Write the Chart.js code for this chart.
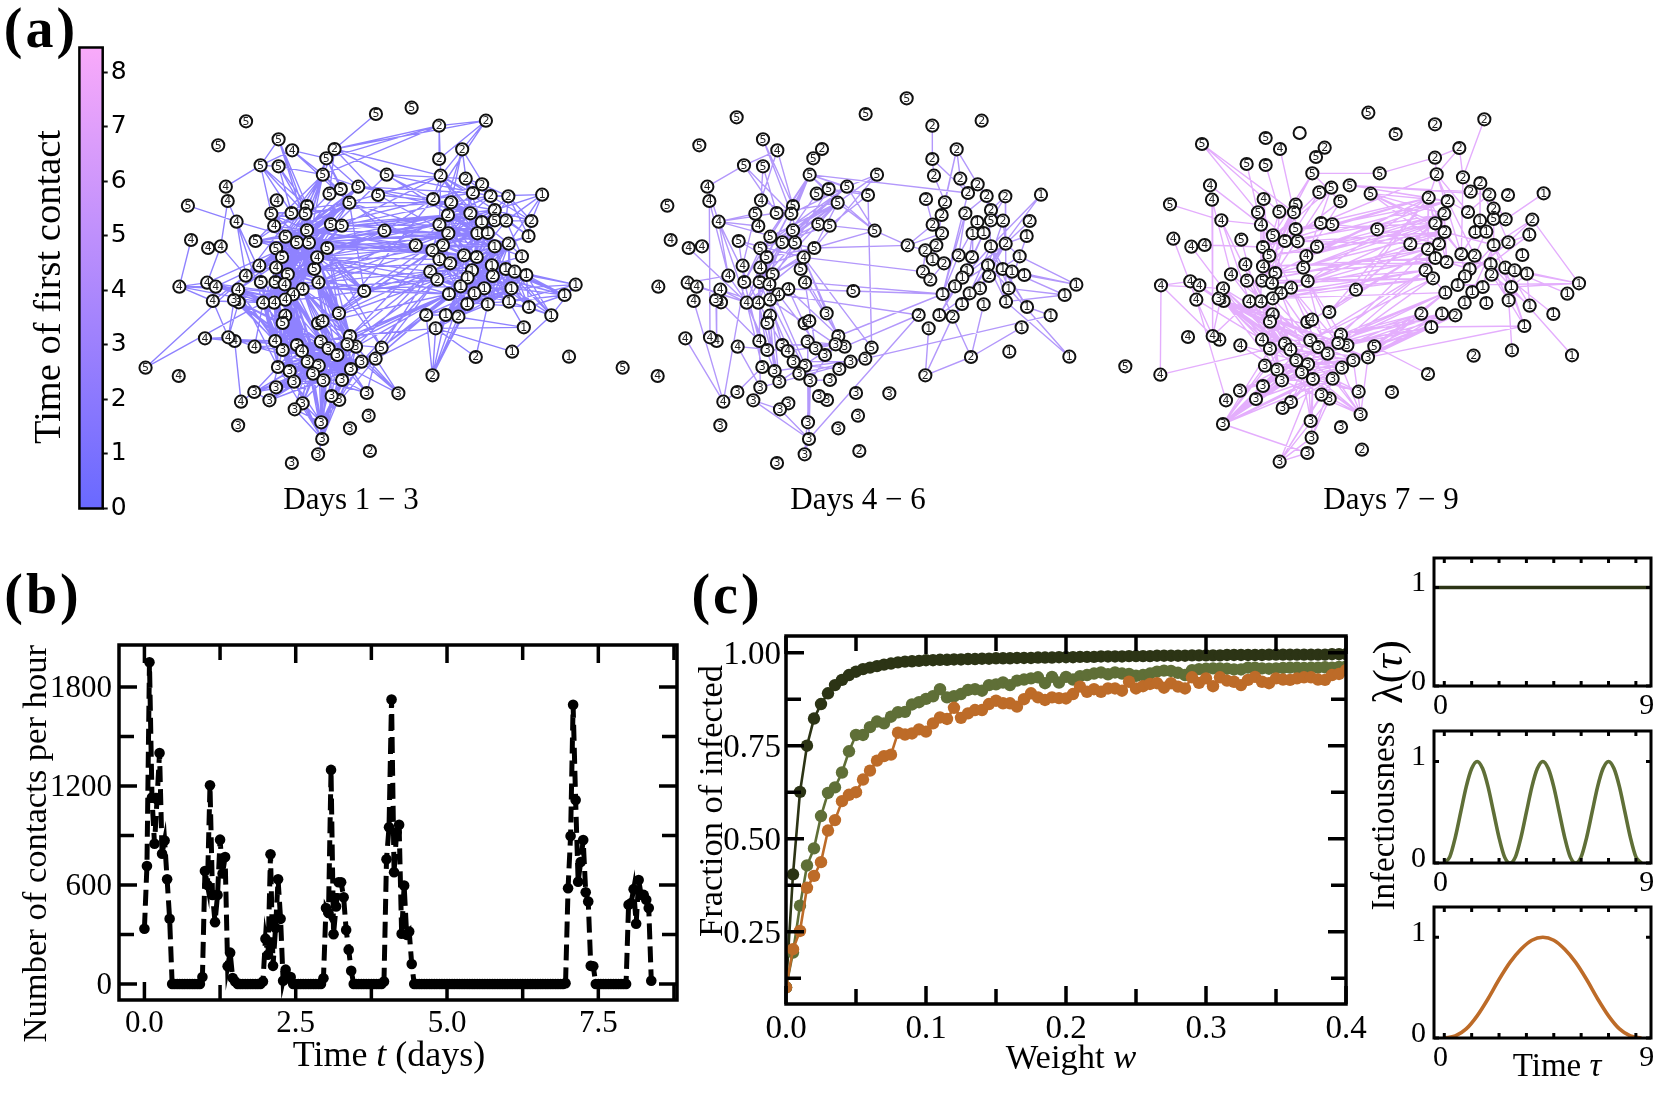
<!DOCTYPE html>
<html>
<head>
<meta charset="utf-8">
<title>Contacts and infection spread</title>
<style>
  html, body { margin: 0; background: #fff; }
  #page { position: relative; width: 1661px; height: 1098px; overflow: hidden; }
  canvas { position: absolute; }
</style>
<script src="https://cdn.jsdelivr.net/npm/chart.js@4/dist/chart.umd.min.js"></script>
</head>
<body>
<div id="page"></div>
<script>
// ---- panel (a): network layout
const nodeX = [800,677,290,178,369,412,312,369,546,520,509,711,202,208,82,363,459,346,410,454,236,355,459,535,569,704,593,621,566,530,684,92,146,186,296,391,427,465,523,361,380,491,308,361,482,265,398,55,143,170,241,313,359,388,495,445,415,390,355,320,161,243,228,640,560,390,382,494,508,595,136,230,210,293,358,382,427,443,503,527,614,587,555,695,676,632,598,461,496,367,404,478,511,418,570,361,292,340,250,53,-52,648,748,561,537,445,420,654,241,504,507,595,494,658,411,
  877,1025,950,877,882,961,1013,984,1040,1096,1203,858,915,1053,905,976,878,1012,1053,1089,1169,906,998,1031,1160,803,889,856,1053,1097,878,912,956,996,1139,1044,1088,1116,1153,849,871,981,967,1047,945,1020,1106,1309,1274,908,989,966,1031,1098,1161,836,898,938,1232,866,1145,993,1108,1288,856];
const nodeY = [40,87,97,181,163,196,241,244,192,220,269,269,305,348,362,346,363,386,384,386,410,423,436,418,422,437,353,305,312,326,330,465,489,484,468,455,472,473,489,490,516,517,542,548,552,572,568,605,593,605,614,591,591,598,592,612,628,644,653,653,648,652,645,618,685,692,714,715,708,753,760,768,757,785,768,795,780,798,770,790,785,778,810,788,821,830,852,830,842,846,858,866,886,890,885,907,921,946,950,873,848,924,925,945,933,955,973,992,1021,1012,1062,1030,1108,1098,1134,
  122,107,193,222,272,281,298,324,333,334,329,342,352,375,390,385,419,411,406,407,408,445,445,444,453,481,481,496,484,476,523,535,511,516,514,541,552,560,570,560,584,556,578,573,604,610,610,599,630,627,625,657,658,650,666,690,690,695,691,730,727,816,800,815,871];
const nodeDay = [5,5,5,5,5,4,5,5,2,5,5,5,4,4,5,4,5,5,5,5,4,4,5,5,5,5,5,5,5,5,5,4,4,4,5,5,5,5,5,5,5,4,4,4,5,4,5,4,4,4,4,5,5,4,4,4,4,4,4,4,4,3,3,5,3,4,5,5,4,3,4,4,4,4,4,3,3,4,3,3,3,3,3,5,3,3,3,3,3,3,3,3,3,3,3,3,3,3,4,4,5,3,3,3,3,3,3,3,3,3,3,3,3,2,3,
  2,2,2,2,2,2,2,2,2,2,1,2,2,2,2,2,2,1,5,2,2,2,1,1,1,2,2,2,1,2,1,2,2,2,1,1,1,1,1,2,2,1,1,2,1,1,1,1,1,1,1,1,1,1,1,2,1,2,1,1,1,2,1,1,2];
// nodes that sit elsewhere in a given panel: index -> [x, y]
const movedDays1 = { 0: [790, 68], 2: [266, 109] };
const movedDays4 = {};
const movedDays7 = { 0: [759, 151], 2: [471, 148] };
const blankDays7 = [2];

// contact lists, each row is one node followed by the nodes it touches
const edgesDays1 = [
  [8,1,115,116,119,126,11,30,9,10,29],[115,116,118,119,10,9],[116,119,126,118],[117,119,127,130,131,123],
  [6,5,7,17,18,19,16,12],[4,6,16,19,22],[7,18,10,16,19],[5,9,10,26],[9,26,27,19,22,28],[10,26,27,22,36,37,39,43],
  [39,22,36,37,38,23,24,26,27,29,16,19,43,46,52,53,54,55],[40,22,36,37,23,24,26,27,16,28,52,53,57,131],
  [43,22,36,37,38,44,46,54,55,56,57,58,59,129],[46,36,37,38,41,44,52,54,55,56,141],[52,22,35,36,37,41,44,54,55,57],
  [53,22,37,38,41,44,54,55,56],[58,36,37,38,41,44,22,16,19,23,24],[59,36,37,41,38,22,26,27,23,24],
  [57,37,38,41,23,24,26,129],[45,36,37,38,22,26,27,10],[34,37,22,16,38,41,10,130],[17,37,22,23,26,127],
  [35,22,37,38,44,26,147],[36,37,22,38,23,24,26,27,141],[21,37,38,22,26],[42,37,22,38,26],
  [36,16,19,22,23,35,40,43,44,46,52,53,54,55,56,57,58,59],[37,16,19,23,35,40,43,44,46,53,54,55,56,57,58],[22,19,35,40,43,44,46,52,53,54,55],
  [37,129,131,136,141,147,148,137],[38,131,141,147,143,138],[41,136,141,145,154,155,164],[22,130,136,140,147,129],
  [23,126,129,136],[24,119,127,131],[25,126,131,143,137,10,37,39,43,52],
  [26,119,127,136,142],[27,122,126,130],[30,119,127,136],[11,120,123,137,52],[44,136,146,155],[54,136,154,164],[55,141,155,159],
  [63,37,36,22,38,26,26,43,52,53,58,154,155,164],[64,126,154,142],[68,141,155],[67,136,164],
  [69,154,164,174,142],[84,164,170,174,155],[83,154,164,41],[85,155,170],[80,154,164],[81,155,164],[79,164],
  [59,75,76,77,87,89,90,74],[58,75,76,77,87,88,89,90,93],[57,75,76,77,78,87,88,90,93],[56,76,77,78,79,87,88,91,92],[55,78,79,81,82,64,69,86,80],
  [54,79,81,82,86,64,69,85],[53,76,77,78,87,88,93,91],[65,76,78,87,90,92,79],[66,76,78,87,90,93,88],[68,79,81,82,69,86],[67,79,82,86,94],
  [44,69,79,81,64],[41,64,69,81,80,83],[38,69,64,83],[46,76,78,87,88,91],[52,75,76,87,90,93],[43,74,76,87,89],[51,74,76,89,90],[50,74,75,89],
  [48,59,58,57,56,36],[49,58,59,37,57,56],[50,57,58,59,36,37],[60,58,59,45,72],[47,48,49,50,59,60,31],[100,59,45],[14,20],[13,33,20],[33,45,48],[20,59,45,58,37],
  [70,72,71,74,76],[73,76,59,75,87],[72,61,62,73],[71,98,74,76],[98,96],[61,75,76,78,79,87],[62,74,76,78,88],
  [89,75,76,77,78,79,81,82,87,88,91],[90,78,79,81,82,85,86,87,88],[93,77,78,79,81,82,85,86,87,88,94],[91,69,79,81,82,84,85,86],[92,69,79,81,82,84,85,86,80],
  [87,69,78,79,80,81,82,85,86],[88,69,78,79,80,81,82,84,85,86],[94,69,79,80,81,82,84,85],[86,69,78,79,80,81,82,84],[75,78,79,81,82,85,86,69],[77,78,79,81,82,86],[76,79,81,82,69,85],
  [110,87,88,90,91,92,93,89,78,79,69,81,86,94,112,109,93],[109,87,88,91,92,93,79,82,86,94,85,84],[96,89,87,88,91,92,79,90],[97,89,87,88,91,92,79,86,81,96],[95,87,88,91,92,79,82],[105,87,88,91,109,110],[106,87,91,92,109,110],
  [104,79,82,86,110],[103,82,86,85],[102,84,85,86,80,81],[101,86,94,92,79,84],[83,85,84,81],
  [131,130,147,148,136,137,138,141,146,143,132,144,134,128,145,142,129,119],[136,130,147,148,137,138,143,132,144,134,128,127,123,121],[141,130,147,148,137,138,143,132,144,134,145,146],
  [147,129,136,137,138,145,146,148,156,157,159,165,143,150,132,131],[156,137,138,146,148,132,158,150,160,165,166],[148,129,136,146,157,159,165,166,133,128],
  [126,119,130,132,137,121,122],[119,122,130,132,137,128],[120,122,123,121,130,137,132],[127,123,128,130,132,133,137,138],[129,122,123,128,130,132,133,137,138,143],
  [130,132,133,134,137,138,143,144,148],[147,132,133,137,138,143,144,148,150,156,158],[148,132,134,137,138,143,144,150,151,158],[146,137,138,143,150,156,157,158,160],[145,156,157,159,165,166,160],
  [142,147,148,146,157,159,165],[140,131,136,141,142],[154,146,147,148,156,157,159,165,150],[155,146,147,148,156,157,159,165,166,160],
  [164,147,148,150,151,156,157,158,159,160,165,166,143,144],[171,150,156,157,158,159,160,165,166,143,144,161],[172,150,156,157,158,160,165,166,167,143,144,161],[170,157,159,165,166,150,171],
  [159,143,144,150,151,152,158,160,161],[157,143,144,150,151,152,158,160,161,168],[156,143,144,150,151,153,161,168],[165,143,144,150,151,152,158,161,167,168],[166,143,144,150,151,153,158,161,168],[160,143,144,150,151,152,153,158,161,168],
  [167,143,144,150,151,152,153,158,161,169],[168,143,144,150,151,152,153,158,161,162,163],[169,150,151,152,153,158,161,163],[161,143,144,150,151,152,153,158,162,163],
  [125,134,135,144,128,123],[135,123,124,128,134,139],[139,124,128,134,144,143],[149,144,143,150,134],[124,123,128,121,134,138],[128,121,123,132,133,134,138],
  [162,151,152,153,163,173],[163,150,151,158,152,153],[173,151,152,153,158,168,169,177],[177,174],[176,167,174],[175,174,171,168],
  [179,174,171,172,166,165,157,170],[174,172,171,166,165,175],[63,164,154]
];
const edgesDays4 = [
  [115,118],[117,129,120,127,121],[118,122,119],[119,127],[12,6,20],[6,5,18,19],[4,16,19],[7,15,18],[5,15,16],[13,72,45],[20,17,59,45,58,37,21],
  [10,27,25,25,122,26,35,39,40,36,19,16],[27,25,11,36,39,22,19,40],[26,25,38,36,39,40,46,35,18,37],[30,83,10,24,28],[11,26,38],[25,24,38,140,23],
  [38,140,43,46,40,36],[41,154,83,46,59,37,69,64,38],[54,164,69,79],[55,164,79,69],[56,170,82],[69,164],[84,173],[80,170],[110,170,92,78,106],
  [179,176,172,174],[176,175,167,172],[178,161,168],[125,143,150],[135,144],[139,144,161],[149,158,144],[162,149,153,151],[163,152,168,161],
  [164,159,157,156,147,130,172,122],[171,157,159,165],[172,165,160],[159,150,143],[157,144],[165,143,151],[166,150,144],[160,144],[168,144,150,143],[161,143,150],[169,143,151,173],
  [145,141,146],[154,155,142],[155,146],[140,142,136,131],[142,146,136],[141,136,129],[131,129,127,126],[147,130,132],[148,137,138],[123,128,130,143],[124,133,128,144],[134,128,150,144],[120,122],[121,123],[137,156],[138,156,157],
  [60,98],[70,98],[98,51,96],[96,89],[97,95,106,110],[109,78,92],[112,92,110],[94,92],[73,95,77],[74,95],
  [48,45,59],[49,59],[32,59],[62,71],[61,74],
  [16,43],[22,43,52],[37,52,53],[43,38],[41,46],[44,69],[57,81,76],[58,75,76],[59,75,89,90],[65,90],[66,93,90],[57,92],[58,93],[53,93,88],[52,87],[43,76,74],[51,74],[50,59,58],[45,59],[34,51,40,41],[17,42,15],[20,18],[19,41],[15,19],
  [76,81],[77,81],[78,81],[79,81],[88,86],[87,85],[90,84],[91,85],[92,81],[93,81],[95,84],[36,58,59,52],[35,51,59],[39,58,51],[40,57,58],[46,57],[23,36],[24,39],[29,36],[28,37]
];
const edgesDays7 = [
  [3,17,18,19],[6,17],[7,18],[5,19],[10,11,26,16,35],[11,118],[118,117,119],[116,120],[117,119,120],[27,122,123,126,127],
  [30,127,129,129,131,136,136,141],[14,20],[13,72,45],[20,59,58,21],[47,99,72,50,48],[99,75],[31,60],[33,39],[60,72,98],[32,50],[12,21],[72,59,50],
  [108,75,76,87,88,91,92,94,86,79,82,78,90,93,89,95,112],[107,90,93,87,91,86,94,85,84,78,92],[114,110,104,103,92,94,112],[109,91,92,88],[110,92,103,94],
  [61,75,76,77,78,79,81,82,85,87,88,86,84,69,90],[62,76,79,78,87,85,81,82,80,84,91],[50,75,77,79,87,88],[60,87],[49,77],[48,76],
  [84,174,170,171,172,164,175],[83,174,171,172,179,170],[85,164,170,172],[80,170,171,172,174],[69,170,172,171,164],[81,174,171,164],[79,164,170],[86,172,170],[82,155,170],
  [174,175],[41,126,131,129],[54,126,131,136],[44,129,131],[38,127,129],[23,126],[24,126,127],[25,141,140,23],[63,126],[64,126,131,142,129],[68,142,141],[78,154,155],[79,154],[69,142],[82,154],
  [22,126,131],[37,127,136,141],[46,126,136,146],[52,141,142,155],[53,154,155],[55,142,145],[56,154,155],[57,155,164],[58,154],[43,145,146],[40,136,131],[39,126,119],[36,129],
  [162,135,161,153,151,159],[125,134],[175,168,161,143],[177,168],[173,150],[169,143,158],[163,151],[178,150],
  [119,126,127,130,147],[120,147,122],[126,131,131,136,142,142,141],[127,148,130],[129,141,146],[131,145,146,147],[136,146,147,143],[142,145,154,155],[146,150,156],[147,137,157],[148,138,158],[123,130,134],[121,133,132],[128,143,144],[144,157,159],[143,159,160,165],[150,160,168],[151,161,168],[152,168],[153,161,169],[155,164],[139,144,150],[135,144,143],[158,168],
  [15,39,52,53],[17,41,40],[18,43,46],[19,46,52,44],[16,52,53,36],[21,55,58],[26,40,41],[28,39,44,46],[29,39,52],[10,35,43],[34,75],[42,76,87],[45,78,87],[51,76],[59,75,87,88,90,93],[58,78,88,91,93],[57,87,79,91],[56,79,88,92],[55,79,81,86],[54,81,69,94],[65,87,91,92],[66,90,93],
  [75,81,82],[76,86,94],[77,85,84],[78,85,84],[87,84,86],[88,85,84],[89,81,85,86],[90,82,85,94],[93,84,86,94],[91,85,101],[92,85,101],[94,101,107],[95,87,88,79],[96,87,88,91],[97,88,92,79],[105,79,82,92],[106,91,94],[73,87,90],[74,78,79]
];

// ---- panel (a): colour bar
const colourbarRange = [0, 8.45];
const colourbarTicks = [0, 1, 2, 3, 4, 5, 6, 7, 8];

// ---- panel (b): contacts per hour, one value per hour from t = 0
const contactsPerHour = [
  335,715,1950,1130,850,1120,1400,790,870,635,395,0,0,0,0,0,0,0,0,0,0,0,0,42,
  685,600,1205,540,375,540,875,670,770,107,190,36,15,0,0,0,0,0,0,0,0,0,0,15,
  275,177,786,110,340,635,395,20,87,35,42,0,0,0,0,0,0,0,0,0,0,0,0,35,
  460,430,1298,302,470,617,617,526,328,208,80,0,0,0,0,0,0,0,0,0,0,0,0,15,
  756,950,1725,677,920,965,305,597,298,318,121,0,0,0,0,0,0,0,0,0,0,0,0,0,
  0,0,0,0,0,0,0,0,0,0,0,0,0,0,0,0,0,0,0,0,0,0,0,0,
  0,0,0,0,0,0,0,0,0,0,0,0,0,0,0,0,0,0,0,0,0,0,0,5,
  580,897,1693,1115,620,740,873,556,500,110,107,0,0,0,0,0,0,0,0,0,0,0,0,0,
  480,490,575,365,630,540,540,510,460,20
];
const timeTicks = [0, 2.5, 5, 7.5];
const timeMinorTicks = [1.25, 3.75, 6.25, 8.75];
const contactTicks = [0, 600, 1200, 1800];
const contactMinorTicks = [300, 900, 1500];

// ---- panel (c): fraction of infected against weight
const weightStep = 0.005;
const infectedConstant = [.10,.404,.626,.75,.823,.862,.891,.913,.927,.94,.949,.956,.96,.964,.968,.971,.974,.976,.977,.978,.98,.98,.981,.981,.982,.982,.983,.983,.984,.984,.985,.985,.985,.986,.986,.986,.987,.987,.987,.988,.988,.988,.989,.989,.989,.99,.99,.99,.99,.991,.991,.991,.991,.992,.992,.992,.992,.992,.993,.993,.993,.993,.993,.994,.994,.994,.994,.994,.994,.995,.995,.995,.995,.995,.995,.995,.995,.995,.996,.996,.996];
const infectedPeriodic = [.10,.194,.32,.428,.474,.561,.623,.638,.678,.735,.779,.779,.8,.815,.81,.828,.84,.841,.861,.867,.876,.883,.902,.88,.883,.889,.9,.902,.898,.913,.915,.92,.913,.925,.928,.931,.934,.918,.935,.92,.935,.928,.937,.94,.944,.947,.942,.947,.944,.943,.938,.94,.944,.949,.952,.951,.946,.94,.953,.956,.957,.958,.958,.957,.955,.955,.96,.96,.958,.957,.958,.959,.96,.96,.959,.96,.96,.961,.96,.962,.963];
const infectedBump = [.10,.203,.252,.368,.4,.437,.522,.55,.601,.618,.625,.659,.683,.71,.722,.726,.785,.78,.783,.794,.788,.81,.826,.822,.852,.825,.837,.846,.846,.862,.871,.864,.864,.855,.875,.891,.88,.873,.88,.878,.877,.889,.909,.895,.902,.895,.904,.904,.898,.922,.904,.91,.916,.918,.906,.918,.909,.904,.934,.919,.931,.91,.934,.925,.922,.913,.927,.935,.922,.918,.931,.928,.927,.931,.934,.934,.928,.927,.94,.943,.953];
const weightTicks = [0, .1, .2, .3, .4];
const weightLabels = ['0.0', '0.1', '0.2', '0.3', '0.4'];
const weightMinorTicks = [.05, .15, .25, .35];
const fractionTicks = [.25, .5, .75, 1];
const fractionLabels = ['0.25', '0.50', '0.75', '1.00'];
const fractionMinorTicks = [.125, .375, .625, .875];

// ---- panel (c): infectiousness insets
const tauFlat = [-1, 10];
const lambdaFlat = [1, 1];
const tauPeriodic = [0,.25,.5,.75,1,1.25,1.5,1.75,2,2.25,2.5,2.75,3,3.25,3.5,3.75,4,4.25,4.5,4.75,5,5.25,5.5,5.75,6,6.25,6.5,6.75,7,7.25,7.5,7.75,8,8.25,8.5,8.75,9];
const lambdaPeriodic = [0,.06,.25,.5,.75,.93,1,.93,.75,.5,.25,.06,0,.06,.25,.5,.75,.93,1,.93,.75,.5,.25,.06,0,.06,.25,.5,.75,.93,1,.93,.75,.5,.25,.06,0];
const tauBump = [0,.5,1,1.5,2,2.5,3,3.5,4,4.5,5,5.5,6,6.5,7,7.5,8,8.5,9];
const lambdaBump = [0,.02,.09,.22,.39,.58,.75,.88,.97,1,.97,.88,.75,.58,.39,.22,.09,.02,0];
const tauTicks = [0,1.25,2.5,3.75,5,6.25,7.5,8.75];
const tauLabelSpots = [-.17, 9.25];
const tauLabels = ['0', '9'];

const SERIF = '"Liberation Serif", serif';
const DARK = '#2c3415', OLIVE = '#5f6f37', ORANGE = '#bd6b28';

Chart.defaults.animation = false;
Chart.defaults.color = '#000';
Chart.defaults.font.family = SERIF;

// spines and inward ticks, matplotlib style
const framePlugin = {
  id: 'frame',
  afterDatasetsDraw(chart, args, o) {
    if (!o.width) return;
    const { ctx, chartArea: a, scales: { x, y } } = chart;
    ctx.save();
    ctx.strokeStyle = '#000';
    ctx.lineWidth = o.tickWidth || o.width;
    const mark = (scale, vals, len) => (vals || []).forEach((v) => {
      const p = scale.getPixelForValue(v);
      ctx.beginPath();
      if (scale === x) {
        ctx.moveTo(p, a.top); ctx.lineTo(p, a.top + len);
        ctx.moveTo(p, a.bottom); ctx.lineTo(p, a.bottom - len);
      } else {
        ctx.moveTo(a.left, p); ctx.lineTo(a.left + len, p);
        ctx.moveTo(a.right, p); ctx.lineTo(a.right - len, p);
      }
      ctx.stroke();
    });
    mark(x, o.xMajor, o.majorLen);
    mark(x, o.xMinor, o.minorLen);
    mark(y, o.yMajor, o.majorLen);
    mark(y, o.yMinor, o.minorLen);
    ctx.lineWidth = o.width;
    ctx.strokeRect(a.left, a.top, a.right - a.left, a.bottom - a.top);
    ctx.restore();
  },
};

// free standing text in page coordinates, runs can be italic
const pageTextPlugin = {
  id: 'pageText',
  afterDraw(chart, args, o) {
    if (!o.items) return;
    const ctx = chart.ctx;
    o.items.forEach((it) => {
      ctx.save();
      ctx.translate(it.x - o.left, it.y - o.top);
      if (it.rot) ctx.rotate(it.rot);
      ctx.fillStyle = '#000';
      ctx.textBaseline = 'middle';
      ctx.textAlign = 'left';
      if (it.spacing) ctx.letterSpacing = it.spacing + 'px';
      const fontOf = (r) => `${r.it ? 'italic ' : ''}${it.bold ? 'bold ' : ''}${it.size}px ${SERIF}`;
      let total = 0;
      it.runs.forEach((r) => { ctx.font = fontOf(r); total += ctx.measureText(r.t).width; });
      let at = -total / 2;
      it.runs.forEach((r) => {
        ctx.font = fontOf(r);
        ctx.fillText(r.t, at, 0);
        at += ctx.measureText(r.t).width;
      });
      ctx.restore();
    });
  },
};

// day number inside every network node
const nodeLabelPlugin = {
  id: 'nodeLabels',
  afterDatasetsDraw(chart, args, o) {
    if (!o.dataset && o.dataset !== 0) return;
    const ctx = chart.ctx;
    const points = chart.getDatasetMeta(o.dataset).data;
    ctx.save();
    ctx.font = '11px "DejaVu Sans"';
    ctx.fillStyle = '#222';
    ctx.textAlign = 'center';
    ctx.textBaseline = 'middle';
    points.forEach((p, i) => {
      if (!o.blank.includes(i)) ctx.fillText(String(nodeDay[i]), p.x, p.y + 0.5);
    });
    ctx.restore();
  },
};
Chart.register(framePlugin, pageTextPlugin, nodeLabelPlugin);

function addChart(box, area, config) {
  const canvas = document.createElement('canvas');
  canvas.width = box.r - box.l;
  canvas.height = box.b - box.t;
  canvas.style.left = box.l + 'px';
  canvas.style.top = box.t + 'px';
  document.getElementById('page').appendChild(canvas);

  config.options.responsive = false;
  config.options.layout = {
    autoPadding: false,
    padding: { left: 0, top: area.t - box.t, right: 0, bottom: 0 },
  };
  const scales = config.options.scales;
  const pad = config.options.layout.padding;
  if (scales.y.display === false) pad.left = area.l - box.l;
  if (scales.y.position === 'right') {
    pad.left = area.l - box.l;
    scales.y.afterFit = (s) => { s.width = box.r - area.r; };
  } else {
    pad.right = box.r - area.r;
    scales.y.afterFit = (s) => { s.width = area.l - box.l; };
  }
  scales.x.afterFit = (s) => { s.height = box.b - area.b; };

  const plugins = config.options.plugins || (config.options.plugins = {});
  plugins.legend = { display: false };
  plugins.tooltip = { enabled: false };
  if (plugins.pageText) { plugins.pageText.left = box.l; plugins.pageText.top = box.t; }
  return new Chart(canvas, config);
}

function fixedTicks(values) {
  return (s) => { s.ticks = values.map((value) => ({ value })); };
}

// ---- network panels
function networkChart(box, area, xRange, yRange, edges, moved, blank, colour, title) {
  const xOf = (i) => (moved[i] ? moved[i][0] : nodeX[i]);
  const yOf = (i) => (moved[i] ? moved[i][1] : nodeY[i]);
  const edgePoints = [];
  edges.forEach((row) => {
    row.slice(1).forEach((other) => {
      edgePoints.push({ x: xOf(row[0]), y: yOf(row[0]) }, { x: xOf(other), y: yOf(other) }, { x: NaN, y: NaN });
    });
  });
  const nodePoints = nodeX.map((_, i) => ({ x: xOf(i), y: yOf(i) }));
  addChart(box, area, {
    type: 'scatter',
    data: {
      datasets: [
        { data: nodePoints, pointRadius: 6.1, pointBorderWidth: 2, pointBackgroundColor: '#fff', pointBorderColor: '#111', order: 0, clip: false },
        { data: edgePoints, showLine: true, spanGaps: false, pointRadius: 0, borderColor: colour, borderWidth: 1.4, order: 1, clip: false },
      ],
    },
    options: {
      scales: {
        x: {
          type: 'linear', min: xRange[0], max: xRange[1],
          grid: { display: false, drawTicks: false }, border: { display: false }, ticks: { display: false },
          title: { display: true, text: title, font: { size: 31 }, padding: 0 },
        },
        y: { type: 'linear', display: false, reverse: true, min: yRange[0], max: yRange[1] },
      },
      plugins: { nodeLabels: { dataset: 0, blank } },
    },
  });
}

networkChart({ l: 104, t: 70, r: 598, b: 519 }, { l: 104, t: 70, r: 598, b: 485 }, [-183.5, 1379.7], [-45, 1200], edgesDays1, movedDays1, [], '#8f82ff', 'Days 1 − 3');
networkChart({ l: 610, t: 70, r: 1106, b: 519 }, { l: 610, t: 70, r: 1106, b: 485 }, [-90, 1398], [-45, 1200], edgesDays4, movedDays4, [], '#b398fb', 'Days 4 − 6');
networkChart({ l: 1110, t: 70, r: 1672, b: 519 }, { l: 1110, t: 70, r: 1672, b: 485 }, [-98, 1588], [-41, 1204], edgesDays7, movedDays7, blankDays7, '#e4aefd', 'Days 7 − 9');

// ---- colour bar
addChart({ l: 0, t: 0, r: 135, b: 530 }, { l: 79.4, t: 47.5, r: 102.7, b: 508.5 }, {
  type: 'bar',
  data: {
    labels: ['time'],
    datasets: [{
      data: [colourbarRange],
      barPercentage: 1,
      categoryPercentage: 1,
      backgroundColor(c) {
        const a = c.chart.chartArea;
        if (!a) return '#6969ff';
        const g = c.chart.ctx.createLinearGradient(0, a.bottom, 0, a.top);
        g.addColorStop(0, '#6969ff');
        g.addColorStop(1, '#f9aafa');
        return g;
      },
    }],
  },
  options: {
    scales: {
      x: { display: false },
      y: {
        position: 'right', min: colourbarRange[0], max: colourbarRange[1],
        afterBuildTicks: fixedTicks(colourbarTicks),
        grid: { drawOnChartArea: false, tickLength: 5, tickWidth: 2, tickColor: '#111' },
        border: { display: false },
        ticks: { padding: 3, autoSkip: false, font: { family: '"DejaVu Sans"', size: 25 } },
      },
    },
    plugins: {
      frame: { width: 2.5 },
      pageText: { items: [
        { runs: [{ t: 'Time of first contact' }], x: 50, y: 287, size: 38.5, rot: -Math.PI / 2 },
        { runs: [{ t: '(a)' }], x: 41, y: 33, size: 56, bold: true, spacing: 3 },
      ] },
    },
  },
});

// ---- panel (b)
addChart({ l: 0, t: 570, r: 700, b: 1090 }, { l: 119, t: 645, r: 677, b: 1000 }, {
  type: 'scatter',
  data: {
    datasets: [{
      data: contactsPerHour.map((y, i) => ({ x: i / 24, y })),
      showLine: true,
      borderColor: '#000',
      borderWidth: 5,
      borderDash: [16, 7],
      pointRadius: 5.3,
      pointBackgroundColor: '#000',
      pointBorderWidth: 0,
    }],
  },
  options: {
    scales: {
      x: {
        type: 'linear', min: -0.42, max: 8.8,
        afterBuildTicks: fixedTicks(timeTicks),
        grid: { display: false, drawTicks: false }, border: { display: false },
        ticks: { padding: 5, maxRotation: 0, autoSkip: false, font: { size: 31 }, callback: (v) => v.toFixed(1) },
      },
      y: {
        type: 'linear', min: -97, max: 2055,
        afterBuildTicks: fixedTicks(contactTicks),
        grid: { display: false, drawTicks: false }, border: { display: false },
        ticks: { padding: 7, labelOffset: 2, autoSkip: false, font: { size: 31 }, callback: (v) => String(v) },
        title: { display: true, text: 'Number of contacts per hour', align: 'end', padding: { top: 16, bottom: 0 }, font: { size: 34.6 } },
      },
    },
    plugins: {
      frame: { width: 3.5, xMajor: timeTicks, xMinor: timeMinorTicks, yMajor: contactTicks, yMinor: contactMinorTicks, majorLen: 18, minorLen: 15 },
      pageText: { items: [
        { runs: [{ t: '(b)' }], x: 43, y: 599, size: 56, bold: true, spacing: 3 },
        { runs: [{ t: 'Time ' }, { t: 't', it: true }, { t: ' (days)' }], x: 389, y: 1057, size: 36 },
      ] },
    },
  },
});

// ---- panel (c), main plot
function infectedSeries(values, colour) {
  return {
    data: values.map((y, i) => ({ x: i * weightStep, y })),
    showLine: true,
    borderColor: colour,
    borderWidth: 2.6,
    pointRadius: 6.2,
    pointBackgroundColor: colour,
    pointBorderWidth: 0,
  };
}
addChart({ l: 690, t: 570, r: 1400, b: 1090 }, { l: 786, t: 636, r: 1346, b: 1004 }, {
  type: 'scatter',
  data: { datasets: [infectedSeries(infectedBump, ORANGE), infectedSeries(infectedPeriodic, OLIVE), infectedSeries(infectedConstant, DARK)] },
  options: {
    scales: {
      x: {
        type: 'linear', min: 0, max: 0.4,
        afterBuildTicks: fixedTicks(weightTicks),
        grid: { display: false, drawTicks: false }, border: { display: false },
        ticks: { padding: 6, maxRotation: 0, autoSkip: false, font: { size: 33 }, callback: (v, i) => weightLabels[i] },
      },
      y: {
        type: 'linear', min: 0.0556, max: 1.045,
        afterBuildTicks: fixedTicks(fractionTicks),
        grid: { display: false, drawTicks: false }, border: { display: false },
        ticks: { padding: 5, labelOffset: 3, autoSkip: false, font: { size: 33 }, callback: (v, i) => fractionLabels[i] },
      },
    },
    plugins: {
      frame: { width: 3.5, xMajor: weightTicks, xMinor: weightMinorTicks, yMajor: fractionTicks, yMinor: fractionMinorTicks, majorLen: 18, minorLen: 15 },
      pageText: { items: [
        { runs: [{ t: '(c)' }], x: 727, y: 599, size: 56, bold: true, spacing: 3 },
        { runs: [{ t: 'Fraction of infected' }], x: 713, y: 801, size: 34.5, rot: -Math.PI / 2 },
        { runs: [{ t: 'Weight ' }, { t: 'w', it: true }], x: 1071, y: 1059, size: 34.5 },
      ] },
    },
  },
});

// ---- panel (c), insets
function insetChart(box, area, tau, values, colour, texts) {
  addChart(box, area, {
    type: 'scatter',
    data: {
      datasets: [{
        data: values.map((y, i) => ({ x: tau[i], y })),
        showLine: true,
        borderColor: colour,
        borderWidth: 3.6,
        pointRadius: 0,
        cubicInterpolationMode: 'monotone',
      }],
    },
    options: {
      scales: {
        x: {
          type: 'linear', min: -0.47, max: 9.44,
          afterBuildTicks: fixedTicks(tauLabelSpots),
          grid: { display: false, drawTicks: false }, border: { display: false },
          ticks: { padding: 2, maxRotation: 0, autoSkip: false, font: { size: 30 }, callback: (v, i) => tauLabels[i] },
        },
        y: {
          type: 'linear', min: 0, max: 1.3,
          afterBuildTicks: fixedTicks([0, 1]),
          grid: { display: false, drawTicks: false }, border: { display: false },
          ticks: { padding: 8, labelOffset: -4, autoSkip: false, font: { size: 30 }, callback: (v) => String(v) },
        },
      },
      plugins: {
        frame: { width: 3, xMajor: tauTicks, yMajor: [0, 1], majorLen: 5 },
        pageText: { items: texts },
      },
    },
  });
}
insetChart({ l: 1370, t: 520, r: 1661, b: 720 }, { l: 1434, t: 558, r: 1651, b: 686 }, tauFlat, lambdaFlat, DARK, [
  { runs: [{ t: 'λ(' }, { t: 'τ', it: true }, { t: ')' }], x: 1391, y: 672, size: 42, rot: -Math.PI / 2 },
]);
insetChart({ l: 1370, t: 695, r: 1661, b: 925 }, { l: 1434, t: 731, r: 1651, b: 863 }, tauPeriodic, lambdaPeriodic, OLIVE, [
  { runs: [{ t: 'Infectiousness' }], x: 1385, y: 816, size: 33, rot: -Math.PI / 2 },
]);
insetChart({ l: 1370, t: 870, r: 1661, b: 1095 }, { l: 1434, t: 907, r: 1651, b: 1038 }, tauBump, lambdaBump, ORANGE, [
  { runs: [{ t: 'Time ' }, { t: 'τ', it: true }], x: 1557, y: 1067, size: 33 },
]);
</script>
</body>
</html>
